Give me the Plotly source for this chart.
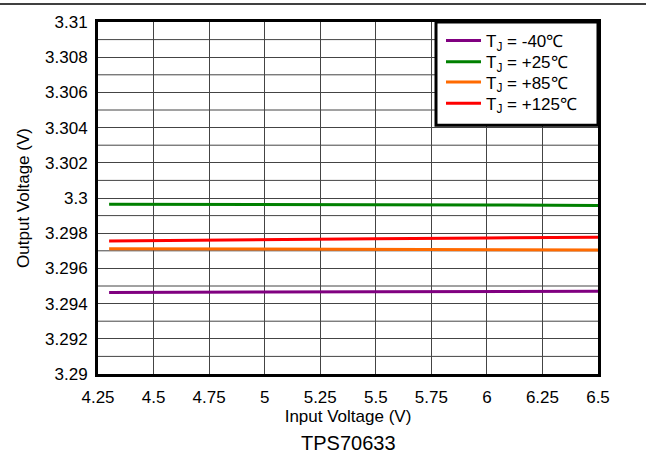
import plotly.graph_objects as go

# Data
vin = [4.3, 4.5, 5.0, 5.5, 6.0, 6.5]
v_m40 = [3.29463, 3.29465, 3.29466, 3.29467, 3.29468, 3.29470]
v_25 = [3.29964, 3.29963, 3.29962, 3.29961, 3.29960, 3.29958]
v_85 = [3.29712, 3.29711, 3.29709, 3.29707, 3.29706, 3.29704]
v_125 = [3.29755, 3.29758, 3.29764, 3.29769, 3.29773, 3.29777]
labels = ["T<sub>J</sub> = -40\u2103", "T<sub>J</sub> = +25\u2103",
          "T<sub>J</sub> = +85\u2103", "T<sub>J</sub> = +125\u2103"]
colors = ["#800080", "#008000", "#FF6A00", "#FF0000"]

x_ticks = [4.25, 4.5, 4.75, 5, 5.25, 5.5, 5.75, 6, 6.25, 6.5]
x_ticktext = ["4.25", "4.5", "4.75", "5", "5.25", "5.5", "5.75", "6", "6.25", "6.5"]
y_ticks = [3.29, 3.292, 3.294, 3.296, 3.298, 3.3, 3.302, 3.304, 3.306, 3.308, 3.31]
y_ticktext = ["3.29", "3.292", "3.294", "3.296", "3.298", "3.3", "3.302", "3.304", "3.306", "3.308", "3.31"]
y_minor = [3.291, 3.293, 3.295, 3.297, 3.299, 3.301, 3.303, 3.305, 3.307, 3.309]

font = "Liberation Sans, Arial, sans-serif"
legend_names = ["legend", "legend2", "legend3", "legend4"]
legend_rows_y = [0.946, 0.886, 0.828, 0.768]  # paper y of legend rows

fig = go.Figure()
for ys, lab, col, lg in zip([v_m40, v_25, v_85, v_125], labels, colors, legend_names):
    fig.add_trace(go.Scatter(x=vin, y=ys, mode="lines", name=lab, legend=lg,
                             line=dict(color=col, width=3)))

shapes = []
for yv in y_minor:
    shapes.append(dict(type="line", xref="paper", yref="y", x0=0, x1=1, y0=yv, y1=yv,
                       line=dict(color="#444444", width=1), layer="below"))
# legend box
shapes.append(dict(type="rect", xref="paper", yref="paper", x0=0.676, x1=1.0, y0=0.707, y1=1.0,
                   fillcolor="white", line=dict(color="black", width=3), layer="above"))
# page separator line at top
shapes.append(dict(type="line", xref="paper", yref="paper", x0=-0.3, x1=1.2, y0=1.051, y1=1.051,
                   line=dict(color="black", width=1.5)))

legend_layout = {}
for lg, ly in zip(legend_names, legend_rows_y):
    legend_layout[lg] = dict(x=0.686, y=ly, xanchor="left", yanchor="middle",
                             bgcolor="rgba(0,0,0,0)", borderwidth=0,
                             font=dict(family=font, size=17, color="black"),
                             itemwidth=35)

fig.update_layout(
    width=646, height=462,
    margin=dict(l=98, r=48, t=22, b=88),
    paper_bgcolor="white", plot_bgcolor="white",
    font=dict(family=font, size=17, color="black"),
    showlegend=True,
    xaxis=dict(range=[4.25, 6.5], tickvals=x_ticks, ticktext=x_ticktext,
               showgrid=True, gridcolor="#444444", gridwidth=1,
               showline=True, linecolor="black", linewidth=3, mirror=True,
               ticks="", zeroline=False, ticklabelstandoff=6,
               title=dict(text="Input Voltage (V)", font=dict(size=17), standoff=3),
               tickfont=dict(size=17)),
    yaxis=dict(range=[3.29, 3.31], tickvals=y_ticks, ticktext=y_ticktext,
               showgrid=True, gridcolor="#444444", gridwidth=1,
               showline=True, linecolor="black", linewidth=3, mirror=True,
               ticks="", zeroline=False, ticklabelstandoff=4,
               title=dict(text="Output Voltage (V)", font=dict(size=17), standoff=12),
               tickfont=dict(size=17)),
    shapes=shapes,
    annotations=[dict(text="TPS70633", xref="paper", yref="paper", x=0.5, y=-0.16,
                      xanchor="center", yanchor="top", showarrow=False,
                      font=dict(family=font, size=20, color="black"))],
    **legend_layout,
)

fig.write_html("out.html", config={"displayModeBar": False},
               post_script="document.body.style.margin='0';")
